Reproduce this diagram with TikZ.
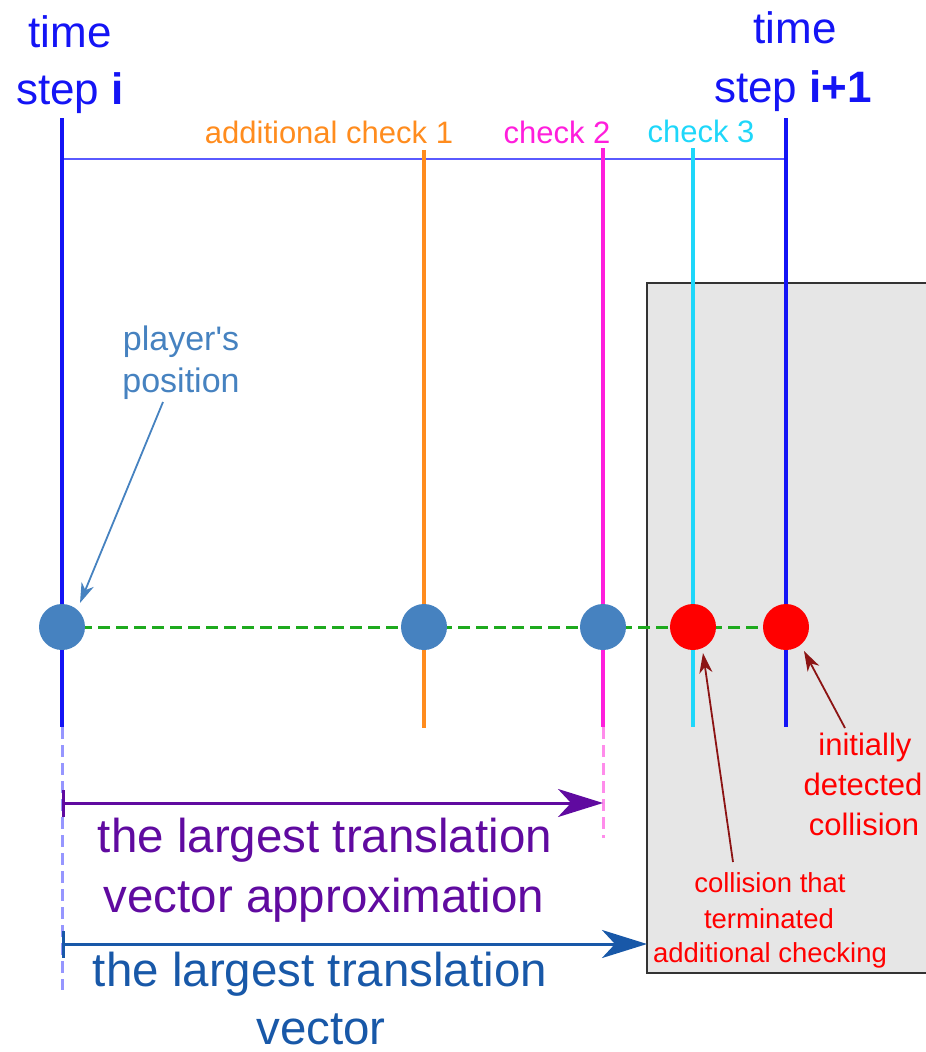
\documentclass[tikz,border=0pt]{standalone}
\usepackage{fontspec}
\setmainfont{Liberation Sans}
\usetikzlibrary{arrows.meta}
\definecolor{stepblue}{RGB}{20,20,245}
\definecolor{spanblue}{RGB}{90,90,255}
\definecolor{orangeck}{RGB}{255,140,30}
\definecolor{magentack}{RGB}{255,30,220}
\definecolor{cyanck}{RGB}{30,215,250}
\definecolor{posblue}{RGB}{70,130,192}
\definecolor{purplevec}{RGB}{96,10,160}
\definecolor{bluevec}{RGB}{24,88,168}
\definecolor{darkred}{RGB}{140,20,20}
\definecolor{boxgray}{RGB}{230,230,230}
\definecolor{fadeblue}{RGB}{150,150,255}
\definecolor{fadepink}{RGB}{255,140,235}
\definecolor{pathgreen}{RGB}{30,170,30}
\tikzset{
  txt/.style={inner sep=0pt, anchor=base},
  bigtxt/.style={txt, font=\fontsize{44}{50}\selectfont, text=stepblue},
  cktxt/.style={txt, font=\fontsize{31}{36}\selectfont},
  vectxt/.style={txt, font=\fontsize{47.5}{56}\selectfont},
  redtxt/.style={txt, text=red},
  tline/.style={line width=3.8pt},
  fadeline/.style={line width=3pt, dash pattern=on 12pt off 6pt},
  dot/.style={circle, inner sep=0pt, minimum size=46pt},
  callout/.style={line width=1.8pt, -{Stealth[length=20pt,width=13pt,inset=6pt]}},
  vecarrow/.style={line width=3pt, {Bar[width=27pt,line width=2.5pt]}-{Stealth[length=45pt,width=28pt,inset=13pt]}},
}
\begin{document}
\begin{tikzpicture}[x=1pt,y=-1pt]
\useasboundingbox (0,0) rectangle (926,1052);

% obstacle region
\draw[line width=2.5pt, draw=black!80, fill=boxgray] (647,283) rectangle (960,973);

% key points along the movement
\coordinate (q0) at (62,627);
\coordinate (q1) at (424,627);
\coordinate (q2) at (603,627);
\coordinate (q3) at (693,627);
\coordinate (q4) at (786,627);

% time step span
\draw[line width=2.4pt, spanblue] (62,159) -- (786,159);

% vertical step / check lines
\draw[tline, stepblue] (62,118) -- (62,727);
\draw[fadeline, fadeblue] (62,727) -- (62,990);
\draw[tline, orangeck] (424,150) -- (424,728);
\draw[tline, magentack] (603,148) -- (603,727);
\draw[fadeline, fadepink] (603,727) -- (603,838);
\draw[tline, cyanck] (693,148) -- (693,727);
\draw[tline, stepblue] (786,118) -- (786,727);

% movement path
\draw[line width=3pt, pathgreen, dash pattern=on 12pt off 6pt] (q0) -- (q4);

% sampled positions
\node[dot, fill=posblue] (p0) at (q0) {};
\node[dot, fill=posblue] (p1) at (q1) {};
\node[dot, fill=posblue] (p2) at (q2) {};
\node[dot, fill=red] (p3) at (q3) {};
\node[dot, fill=red] (p4) at (q4) {};

% time step labels
\node[bigtxt] (ti) at (70,47) {time};
\node[bigtxt] (si) at (70,104) {step \textbf{i}};
\node[bigtxt] (tj) at (795,43) {time};
\node[bigtxt] (sj) at (793,102) {step \textbf{i+1}};

% check labels
\node[cktxt, text=orangeck] (c1) at (329,143) {additional check 1};
\node[cktxt, text=magentack] (c2) at (557,143) {check 2};
\node[cktxt, text=cyanck] (c3) at (701,142) {check 3};

% player's position
\node[txt, font=\fontsize{34}{40}\selectfont, text=posblue] (pl1) at (181,350) {player\textquotesingle s};
\node[txt, font=\fontsize{34}{40}\selectfont, text=posblue] (pl2) at (181,392) {position};
\coordinate (plTail) at (163,402);
\draw[callout, posblue] (plTail) -- ([shift={(18,-24)}]p0.center);

% translation vectors
\coordinate (va0) at (62,803);
\coordinate (va1) at (603,803);
\draw[vecarrow, purplevec] (va0) -- (va1);
\node[vectxt, text=purplevec] (ap1) at (325,852) {the largest translation};
\node[vectxt, text=purplevec] (ap2) at (324,912) {vector approximation};

\coordinate (vb0) at (62,944);
\coordinate (vb1) at (647,944);
\draw[vecarrow, bluevec] (vb0) -- (vb1);
\node[vectxt, text=bluevec] (tv1) at (320,986) {the largest translation};
\node[vectxt, text=bluevec] (tv2) at (321,1044) {vector};

% collision labels
\node[redtxt, font=\fontsize{31}{36}\selectfont] (in1) at (865,755) {initially};
\node[redtxt, font=\fontsize{31}{36}\selectfont] (in2) at (863,795) {detected};
\node[redtxt, font=\fontsize{31}{36}\selectfont] (in3) at (864,835) {collision};
\coordinate (inTail) at (845,728);
\draw[callout, darkred] (inTail) -- ([shift={(18,24)}]p4.center);

\node[redtxt, font=\fontsize{27.5}{33}\selectfont] (ct1) at (770,892) {collision that};
\node[redtxt, font=\fontsize{27.5}{33}\selectfont] (ct2) at (769,928) {terminated};
\node[redtxt, font=\fontsize{27.5}{33}\selectfont] (ct3) at (770,962) {additional checking};
\coordinate (ctTail) at (733,862);
\draw[callout, darkred] (ctTail) -- ([shift={(10,26)}]p3.center);
\end{tikzpicture}
\end{document}
